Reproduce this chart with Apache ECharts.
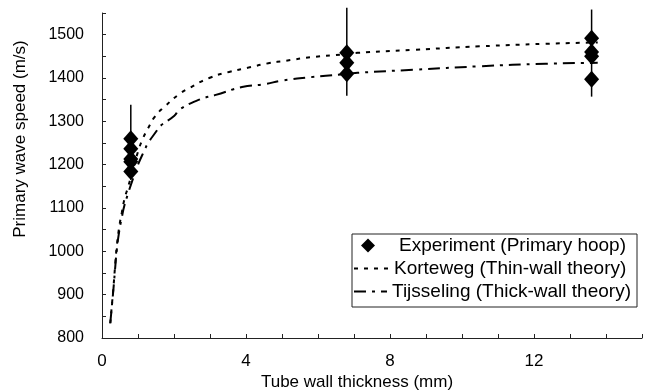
<!DOCTYPE html>
<html>
<head>
<meta charset="utf-8">
<title>Primary wave speed vs tube wall thickness</title>
<script src="https://cdn.jsdelivr.net/npm/echarts@6/dist/echarts.min.js"></script>
<style>
  html, body { margin: 0; padding: 0; background: #fff; }
  #chart { width: 645px; height: 391px; }
</style>
</head>
<body>
<div id="chart"></div>
<script>
// Measured primary hoop wave speeds: wall thickness (mm) and speed (m/s)
const expThickness = [0.8, 0.8, 0.8, 0.8, 0.8, 6.8, 6.8, 6.8, 13.6, 13.6, 13.6, 13.6];
const expSpeed     = [1260, 1237, 1213, 1207, 1184, 1458, 1435, 1410, 1492, 1460, 1450, 1397];

// Error bar extents for each thickness group
const errThickness = [0.8, 6.8, 13.6];
const errLow       = [1165, 1359, 1357];
const errHigh      = [1338, 1562, 1558];

// Korteweg (thin-wall theory) curve
const kortewegThickness = [0.23, 0.27, 0.32, 0.37, 0.41, 0.48, 0.55, 0.62, 0.73, 0.85, 1.0, 1.14, 1.28, 1.47, 1.74, 2.15, 2.43, 2.98, 3.53, 4.07, 4.62, 5.12, 5.81, 6.63, 7.10, 8.65, 10.48, 12.32, 13.77];
const kortewegSpeed     = [834, 872, 919, 973, 1011, 1057, 1089, 1119, 1150, 1185, 1230, 1261, 1284, 1311, 1334, 1363, 1377, 1400, 1414, 1424, 1434, 1440, 1448, 1454, 1458, 1465, 1473, 1479, 1482];

// Tijsseling (thick-wall theory) curve
const tijsselingThickness = [0.23, 0.27, 0.32, 0.37, 0.41, 0.48, 0.55, 0.62, 0.73, 0.85, 1.0, 1.19, 1.28, 1.51, 1.60, 2.01, 2.15, 2.70, 3.16, 3.89, 4.53, 4.99, 5.81, 6.63, 7.10, 8.65, 10.48, 12.32, 13.77];
const tijsselingSpeed     = [834, 870, 915, 966, 1003, 1047, 1078, 1105, 1135, 1165, 1200, 1235, 1250, 1277, 1288, 1313, 1327, 1350, 1361, 1379, 1386, 1394, 1402, 1408, 1412, 1419, 1427, 1433, 1435];

// Axis settings
const xTickLabels = [0, 4, 8, 12];
const yTickLabels = [800, 900, 1000, 1100, 1200, 1300, 1400, 1500];

const seriesNames = [
  'Experiment (Primary hoop)',
  'Korteweg (Thin-wall theory)',
  'Tijsseling (Thick-wall theory)'
];

const zip = (xs, ys) => xs.map((x, i) => [x, ys[i]]);
const FONT = 'Liberation Sans, Arial, sans-serif';
const INK = '#000';

const chart = echarts.init(document.getElementById('chart'), null, { renderer: 'canvas' });

const legendText = { fontFamily: FONT, fontSize: 19, color: INK };
const legendBase = {
  orient: 'horizontal',
  textStyle: legendText,
  itemGap: 0,
  selectedMode: false,
  padding: 0
};

chart.setOption({
  animation: false,
  backgroundColor: '#fff',
  color: [INK, INK, INK],
  grid: { left: 102, right: -3, top: 13, bottom: 53, containLabel: false },
  xAxis: {
    type: 'value',
    min: 0, max: 15, interval: 1,
    axisLine: { show: true, lineStyle: { color: '#222', width: 1 } },
    axisTick: { show: true, inside: true, length: 4, lineStyle: { color: '#222' } },
    splitLine: { show: false },
    axisLabel: {
      margin: 15,
      fontFamily: FONT, fontSize: 17, color: INK,
      formatter: v => (xTickLabels.includes(v) ? String(v) : '')
    }
  },
  yAxis: {
    type: 'value',
    min: 800, max: 1550, interval: 50,
    axisLine: { show: true, lineStyle: { color: '#222', width: 1 } },
    axisTick: { show: true, inside: true, length: 4, lineStyle: { color: '#222' } },
    splitLine: { show: false },
    axisLabel: {
      margin: 18,
      fontFamily: FONT, fontSize: 16, color: INK,
      formatter: v => (yTickLabels.includes(v) ? String(v) : '')
    }
  },
  legend: [
    Object.assign({}, legendBase, {
      data: [seriesNames[0]], left: 361, top: 236,
      itemWidth: 14, itemHeight: 14,
      itemStyle: { color: INK, opacity: 1 },
      textStyle: Object.assign({}, legendText, { padding: [0, 0, 0, 19] })
    }),
    Object.assign({}, legendBase, {
      data: [seriesNames[1]], left: 353, top: 259,
      itemWidth: 35, itemHeight: 12,
      itemStyle: { opacity: 0 }
    }),
    Object.assign({}, legendBase, {
      data: [seriesNames[2]], left: 353, top: 282,
      itemWidth: 33, itemHeight: 12,
      itemStyle: { opacity: 0 }
    })
  ],
  graphic: [
    {
      type: 'rect',
      shape: { x: 352, y: 234, width: 285, height: 73 },
      style: { fill: 'none', stroke: '#222', lineWidth: 1 },
      z: 1
    },
    {
      type: 'text',
      x: 357, y: 382,
      style: {
        text: 'Tube wall thickness (mm)',
        fontFamily: FONT, fontSize: 17, fill: INK,
        align: 'center', verticalAlign: 'middle'
      }
    },
    {
      type: 'text',
      x: 20, y: 139,
      rotation: Math.PI / 2,
      style: {
        text: 'Primary wave speed (m/s)',
        fontFamily: FONT, fontSize: 17, fill: INK,
        align: 'center', verticalAlign: 'middle'
      }
    }
  ],
  series: [
    {
      name: seriesNames[1],
      type: 'line',
      data: zip(kortewegThickness, kortewegSpeed),
      symbol: 'none',
      smooth: true,
      itemStyle: { color: INK },
      lineStyle: { color: INK, width: 2, type: [4, 6] },
      z: 3
    },
    {
      name: seriesNames[2],
      type: 'line',
      data: zip(tijsselingThickness, tijsselingSpeed),
      symbol: 'none',
      smooth: true,
      itemStyle: { color: INK },
      lineStyle: { color: INK, width: 2, type: [12, 6, 3, 6] },
      z: 3
    },
    {
      name: 'error',
      type: 'custom',
      data: errThickness.map((x, i) => [x, errLow[i], errHigh[i]]),
      renderItem: (params, api) => {
        const lo = api.coord([api.value(0), api.value(1)]);
        const hi = api.coord([api.value(0), api.value(2)]);
        return {
          type: 'line',
          shape: { x1: lo[0], y1: lo[1], x2: hi[0], y2: hi[1] },
          style: { stroke: INK, lineWidth: 1.5 }
        };
      },
      clip: false,
      z: 4
    },
    {
      name: seriesNames[0],
      type: 'scatter',
      data: zip(expThickness, expSpeed),
      symbol: 'diamond',
      symbolSize: [15, 17],
      itemStyle: { color: INK, opacity: 1 },
      z: 5
    }
  ]
});
</script>
</body>
</html>
